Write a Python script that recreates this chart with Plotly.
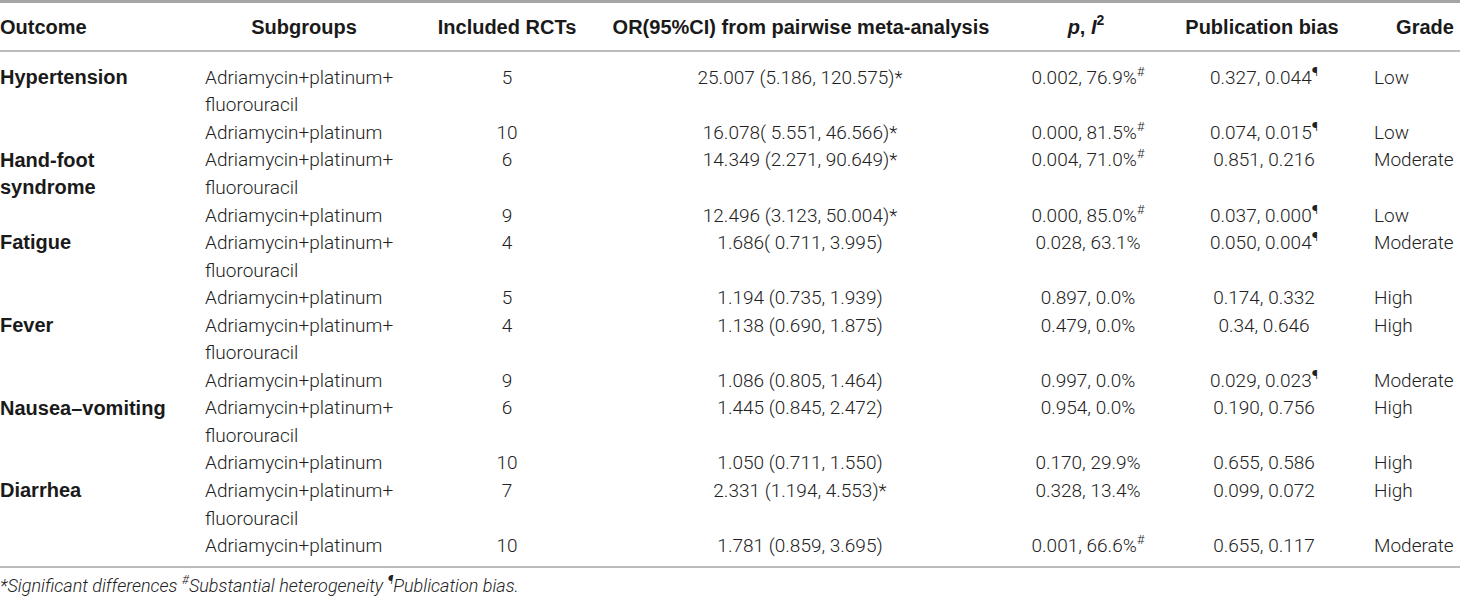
import plotly.graph_objects as go

# ---- table content ----
outcomes = ["Hypertension", "Hand-foot\nsyndrome", "Fatigue", "Fever",
            "Nausea–vomiting", "Diarrhea"]
subgroups = ["Adriamycin+platinum+\nfluorouracil", "Adriamycin+platinum"]
included_rcts = [5, 10, 6, 9, 4, 5, 4, 9, 6, 10, 7, 10]
or_ci = ["25.007 (5.186, 120.575)*", "16.078( 5.551, 46.566)*",
         "14.349 (2.271, 90.649)*", "12.496 (3.123, 50.004)*",
         "1.686( 0.711, 3.995)", "1.194 (0.735, 1.939)",
         "1.138 (0.690, 1.875)", "1.086 (0.805, 1.464)",
         "1.445 (0.845, 2.472)", "1.050 (0.711, 1.550)",
         "2.331 (1.194, 4.553)*", "1.781 (0.859, 3.695)"]
p_values = ["0.002", "0.000", "0.004", "0.000", "0.028", "0.897",
            "0.479", "0.997", "0.954", "0.170", "0.328", "0.001"]
i_squared = ["76.9%", "81.5%", "71.0%", "85.0%", "63.1%", "0.0%",
             "0.0%", "0.0%", "0.0%", "29.9%", "13.4%", "66.6%"]
heterogeneity = [1, 1, 1, 1, 0, 0, 0, 0, 0, 0, 0, 1]
pub_bias = ["0.327, 0.044", "0.074, 0.015", "0.851, 0.216", "0.037, 0.000",
            "0.050, 0.004", "0.174, 0.332", "0.34, 0.646", "0.029, 0.023",
            "0.190, 0.756", "0.655, 0.586", "0.099, 0.072", "0.655, 0.117"]
bias_flag = [1, 1, 0, 1, 1, 0, 0, 1, 0, 0, 0, 0]
grade = ["Low", "Low", "Moderate", "Low", "Moderate", "High",
         "High", "Moderate", "High", "High", "High", "Moderate"]

headers = ["Outcome", "Subgroups", "Included RCTs",
           "OR(95%CI) from pairwise meta-analysis",
           "<i>p</i>, <i>I</i><sup>2</sup>", "Publication bias", "Grade"]
footnote = ("<i>*Significant differences <sup>#</sup>Substantial heterogeneity "
            "<sup>¶</sup>Publication bias.</i>")

# ---- layout constants ----
W, H = 1460, 598
FIRST = 79
PITCH = 27.55
HEADER_Y = 28.5
BODY = dict(family="Roboto, Liberation Sans, Arial", size=19, color="#222222", weight=300)
BOLD = dict(family="Liberation Sans, Arial", size=20, color="#1a1a1a", weight=700)

# columns: (x, textposition) for body, (x, textposition) for header
col_body = [(0, "middle right"), (205, "middle right"), (507, "middle center"),
            (800, "middle center"), (1088, "middle center"),
            (1264, "middle center"), (1374, "middle right")]
col_head = [(0, "middle right"), (304, "middle center"), (507, "middle center"),
            (801, "middle center"), (1086, "middle center"),
            (1262, "middle center"), (1425, "middle center")]

# build row start lines: first subgroup takes 2 lines, second 1
row_line = []
line = 0
for k in range(len(included_rcts)):
    row_line.append(line)
    line += subgroups[k % 2].count("\n") + 1


def expand(texts, starts):
    ys, out = [], []
    for t, s in zip(texts, starts):
        for j, part in enumerate(t.split("\n")):
            ys.append(FIRST + PITCH * (s + j))
            out.append(part)
    return ys, out


columns = [
    (outcomes, row_line[::2], BOLD),
    ([subgroups[k % 2] for k in range(len(included_rcts))], row_line, BODY),
    ([str(v) for v in included_rcts], row_line, BODY),
    (or_ci, row_line, BODY),
    ([f"{p}, {i}" + ("<sup>#</sup>" if h else "")
      for p, i, h in zip(p_values, i_squared, heterogeneity)], row_line, BODY),
    ([b + ("<sup>¶</sup>" if f else "") for b, f in zip(pub_bias, bias_flag)],
     row_line, BODY),
    (grade, row_line, BODY),
]

fig = go.Figure()

for (texts, starts, font), (cx, pos) in zip(columns, col_body):
    ys, txt = expand(texts, starts)
    fig.add_trace(go.Scatter(x=[cx] * len(ys), y=ys, text=txt, mode="text",
                             textposition=pos, textfont=font,
                             hoverinfo="skip", showlegend=False))

for h, (cx, pos) in zip(headers, col_head):
    fig.add_trace(go.Scatter(x=[cx], y=[HEADER_Y], text=[h], mode="text",
                             textposition=pos, textfont=BOLD,
                             hoverinfo="skip", showlegend=False))

fig.add_trace(go.Scatter(x=[0], y=[587], text=[footnote], mode="text",
                         textposition="middle right",
                         textfont=dict(family="Roboto, Liberation Sans, Arial",
                                       size=18, color="#222222", weight=300),
                         hoverinfo="skip", showlegend=False))

# horizontal rules
for y, w in [(1.5, 3), (51, 1.5), (567, 1.5)]:
    fig.add_shape(type="line", xref="x", yref="y", x0=0, x1=W, y0=y, y1=y,
                  line=dict(color="#a6a6a6", width=w))

fig.update_layout(
    width=W, height=H,
    margin=dict(l=0, r=0, t=0, b=0),
    paper_bgcolor="white", plot_bgcolor="white",
    xaxis=dict(range=[0, W], visible=False, fixedrange=True),
    yaxis=dict(range=[H, 0], visible=False, fixedrange=True),
)

# the page body has a default 8px margin; drop it so the figure fills the window
fig.write_html("out.html", config={"displayModeBar": False},
               post_script="document.body.style.margin='0';")
